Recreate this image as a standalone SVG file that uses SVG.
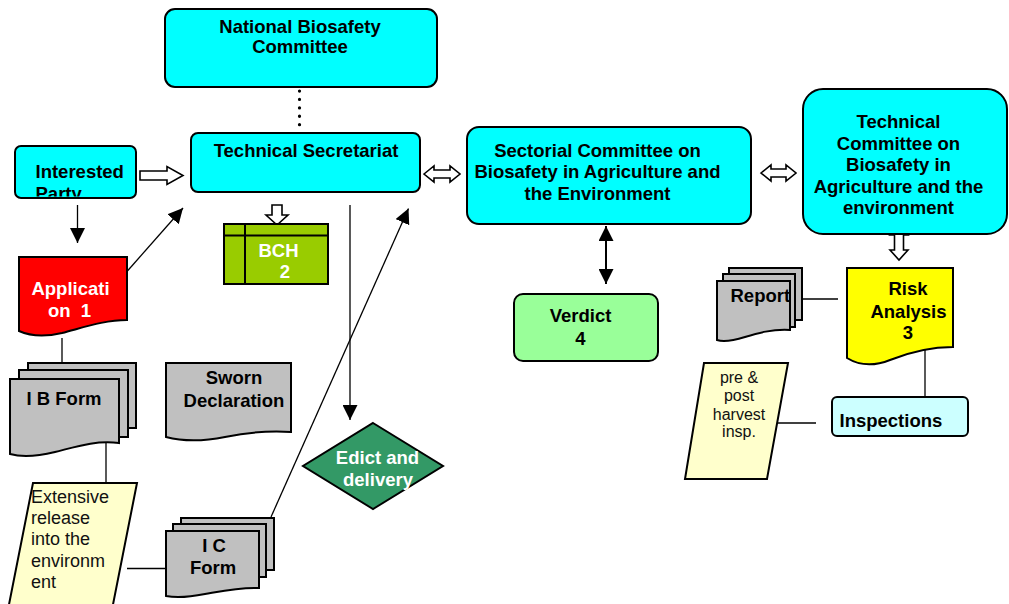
<svg xmlns="http://www.w3.org/2000/svg" width="1009" height="604" viewBox="0 0 1009 604">
  <style>
    .box { stroke: #000; stroke-width: 2; }
    .cyan { fill: #00ffff; }
    .doc { fill: #c0c0c0; stroke: #000; stroke-width: 2; }
    .note { fill: #ffffcc; stroke: #000; stroke-width: 2; }
    .hollow { fill: #fff; stroke: #000; stroke-width: 1.6; }
    .b { font-family: "Liberation Sans", Arial, sans-serif; font-weight: bold; font-size: 18.5px; fill: #000; }
    .w { fill: #fff; }
    .r { font-family: "Liberation Sans", Arial, sans-serif; font-size: 18px; fill: #111; }
    .s { font-family: "Liberation Sans", Arial, sans-serif; font-size: 16px; fill: #111; }
    .mid { text-anchor: middle; }
    .link { stroke: #000; stroke-width: 1.3; fill: none; }
  </style>
  <defs>
    <marker id="tri" viewBox="0 0 15 15" refX="15" refY="7.5" markerWidth="15" markerHeight="15" markerUnits="userSpaceOnUse" orient="auto-start-reverse">
      <path d="M0,0 L15,7.5 L0,15 Z" fill="#000"/>
    </marker>
    <clipPath id="ipClip">
      <rect x="16" y="147" width="120" height="49.5"/>
    </clipPath>
  </defs>

  <rect width="1009" height="604" fill="#fff"/>

  <!-- connectors -->
  <g id="connectors">
    <line class="link" x1="299.5" y1="91" x2="299.5" y2="125" style="stroke-width:3.2;stroke-linecap:round;stroke-dasharray:0.1 8.3"/>
    <polygon class="hollow" points="140,171 167,171 167,166.5 183,175.5 167,184.5 167,180 140,180"/>
    <line class="link" x1="77.5" y1="205" x2="77.5" y2="243" marker-end="url(#tri)"/>
    <line class="link" x1="123" y1="276" x2="183" y2="208" marker-end="url(#tri)"/>
    <line class="link" x1="62" y1="338" x2="62" y2="363"/>
    <line class="link" x1="106" y1="443" x2="106" y2="485"/>
    <line class="link" x1="127" y1="568.5" x2="170" y2="568.5"/>
    <line class="link" x1="271" y1="517" x2="408.5" y2="208.5" marker-end="url(#tri)"/>
    <line class="link" x1="350" y1="205" x2="350" y2="420" marker-end="url(#tri)"/>
    <polygon class="hollow" points="272,205 282,205 282,215 288,215 277,225 266,215 272,215"/>
    <polygon class="hollow" points="424,174 434,166 434,170 450,170 450,166 460,174 450,182 450,178 434,178 434,182"/>
    <polygon class="hollow" points="761,173 771,165 771,169 786,169 786,165 796,173 786,181 786,177 771,177 771,181"/>
    <polygon class="hollow" points="899,225 908,235 903.5,235 903.5,250 908,250 899,260 890,250 894.5,250 894.5,235 890,235"/>
    <line class="link" x1="606" y1="226" x2="606" y2="284" style="stroke-width:2" marker-start="url(#tri)" marker-end="url(#tri)"/>
    <line class="link" x1="793" y1="299" x2="838" y2="299"/>
    <line class="link" x1="925" y1="345" x2="925" y2="397"/>
    <line class="link" x1="773" y1="423" x2="816" y2="423"/>
  </g>

  <!-- National Biosafety Committee -->
  <g id="nbc">
    <rect class="box cyan" x="165" y="9" width="272" height="78" rx="10"/>
    <text class="b mid" x="300" y="32.5">National Biosafety</text>
    <text class="b mid" x="300" y="53">Committee</text>
  </g>

  <!-- Technical Secretariat -->
  <g id="secretariat">
    <rect class="box cyan" x="191" y="133" width="229" height="59" rx="7"/>
    <text class="b mid" x="306" y="157">Technical Secretariat</text>
  </g>

  <!-- Interested Party -->
  <g id="interested-party">
    <rect class="box cyan" x="15" y="146" width="121" height="52" rx="6"/>
    <g clip-path="url(#ipClip)">
      <text class="b" x="35.5" y="178">Interested</text>
      <text class="b" x="35.5" y="199.5">Party</text>
    </g>
  </g>

  <!-- Application 1 -->
  <g id="application">
    <path class="box" fill="#ff0000" d="M19,257 H127 V320 C105,320 85,327 62,333 C45,337 30,336 19,331 Z"/>
    <text class="b w mid" x="70.5" y="294.5">Applicati</text>
    <text class="b w mid" x="69.5" y="316.5" xml:space="preserve">on  1</text>
  </g>

  <!-- BCH 2 -->
  <g id="bch">
    <rect class="box" fill="#99cc00" x="224" y="224" width="104" height="60"/>
    <line class="link" x1="245" y1="224" x2="245" y2="284" style="stroke-width:2"/>
    <line class="link" x1="224" y1="235.5" x2="328" y2="235.5" style="stroke-width:2"/>
    <text class="b w mid" x="278.5" y="256.5">BCH</text>
    <text class="b w mid" x="285" y="278">2</text>
  </g>

  <!-- I B Form -->
  <g id="ib-form">
    <rect class="doc" x="28" y="363" width="108" height="65"/>
    <rect class="doc" x="19" y="370" width="109" height="67"/>
    <path class="doc" d="M10,379 H119 V443 C95,440 75,447 55,452 C35,457 20,457 10,454 Z"/>
    <text class="b" x="26.5" y="404.5">I B Form</text>
  </g>

  <!-- Sworn Declaration -->
  <g id="sworn">
    <path class="doc" d="M166,363 H291 V432 C265,430 245,433 225,437 C205,441 185,442 166,437 Z"/>
    <text class="b mid" x="234" y="384">Sworn</text>
    <text class="b mid" x="234" y="406.5">Declaration</text>
  </g>

  <!-- Extensive release -->
  <g id="extensive-release">
    <polygon class="note" points="33,483 137,483 112.5,607 8.5,607"/>
    <text class="r" x="31" y="503">Extensive</text>
    <text class="r" x="31" y="524">release</text>
    <text class="r" x="31" y="545">into the</text>
    <text class="r" x="31" y="566.5">environm</text>
    <text class="r" x="31" y="588">ent</text>
  </g>

  <!-- I C Form -->
  <g id="ic-form">
    <rect class="doc" x="181" y="518" width="93" height="52"/>
    <rect class="doc" x="173" y="524" width="93" height="53"/>
    <path class="doc" d="M166,531 H259 V588 C240,587 222,591 205,594 C190,597 176,598 166,596 Z"/>
    <text class="b mid" x="214" y="551.5">I C</text>
    <text class="b mid" x="213" y="573.5">Form</text>
  </g>

  <!-- Edict and delivery -->
  <g id="edict">
    <polygon class="box" fill="#339966" points="373,423 443,466 373,509 303,466"/>
    <text class="b w mid" x="377.5" y="464">Edict and</text>
    <text class="b w mid" x="378" y="485.5">delivery</text>
  </g>

  <!-- Sectorial Committee -->
  <g id="sectorial">
    <rect class="box cyan" x="467" y="127" width="284" height="97" rx="12"/>
    <text class="b mid" x="597.5" y="156.5">Sectorial Committee on</text>
    <text class="b mid" x="597.5" y="178">Biosafety in Agriculture and</text>
    <text class="b mid" x="597.5" y="199.5">the Environment</text>
  </g>

  <!-- Verdict 4 -->
  <g id="verdict">
    <rect class="box" fill="#99ff99" x="514" y="294" width="144" height="67" rx="9"/>
    <text class="b mid" x="580.5" y="321.5">Verdict</text>
    <text class="b mid" x="580.5" y="344.5">4</text>
  </g>

  <!-- Technical Committee -->
  <g id="technical-committee">
    <rect class="box cyan" x="803" y="89" width="204" height="145" rx="20"/>
    <text class="b mid" x="898.5" y="128">Technical</text>
    <text class="b mid" x="898.5" y="149.5">Committee on</text>
    <text class="b mid" x="898.5" y="171">Biosafety in</text>
    <text class="b mid" x="898.5" y="192.5">Agriculture and the</text>
    <text class="b mid" x="898.5" y="214">environment</text>
  </g>

  <!-- Report -->
  <g id="report">
    <rect class="doc" x="729" y="268" width="73" height="52"/>
    <rect class="doc" x="723" y="274" width="72" height="53"/>
    <path class="doc" d="M717,281 H790 V330 C772,329 758,333 745,337 C732,341 723,342 717,340 Z"/>
    <text class="b" x="730.5" y="302">Report</text>
  </g>

  <!-- Risk Analysis 3 -->
  <g id="risk-analysis">
    <path class="box" fill="#ffff00" d="M847,268 H953 V347 C930,347 910,352 890,360 C875,366 860,366 847,358 Z"/>
    <text class="b mid" x="908" y="294.5">Risk</text>
    <text class="b mid" x="908.5" y="317.5">Analysis</text>
    <text class="b mid" x="908" y="339">3</text>
  </g>

  <!-- pre & post harvest inspections -->
  <g id="harvest-insp">
    <polygon class="note" points="704,363 788,363 767,479 685,479"/>
    <text class="s mid" x="739" y="383">pre &amp;</text>
    <text class="s mid" x="739" y="401">post</text>
    <text class="s mid" x="739" y="419.5">harvest</text>
    <text class="s mid" x="739" y="437">insp.</text>
  </g>

  <!-- Inspections -->
  <g id="inspections">
    <rect class="box" fill="#ccffff" x="832" y="397" width="136" height="39" rx="5"/>
    <text class="b" x="839.5" y="426.5">Inspections</text>
  </g>
</svg>
